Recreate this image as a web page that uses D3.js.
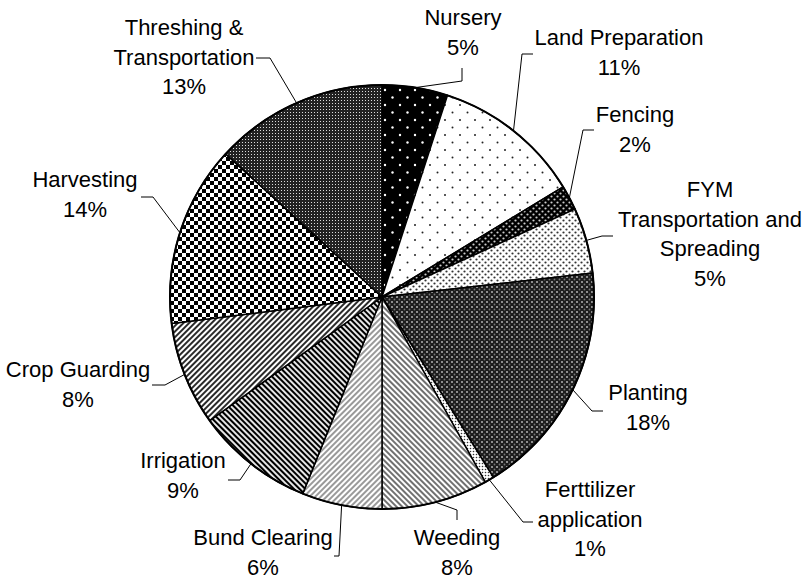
<!DOCTYPE html>
<html>
<head>
<meta charset="utf-8">
<script src="https://cdn.jsdelivr.net/npm/d3@7"></script>
<style>
  html, body { margin: 0; padding: 0; background: #fff; }
  svg { display: block; }
</style>
</head>
<body>
<div id="chart"></div>
<script>
// activity categories, clockwise from 12 o'clock
var categories = ["Nursery", "Land Preparation", "Fencing", "FYM\nTransportation and\nSpreading",
  "Planting", "Ferttilizer\napplication", "Weeding", "Bund Clearing", "Irrigation",
  "Crop Guarding", "Harvesting", "Threshing &\nTransportation"];
// share of labour (%)
var shares = [5.0, 11.3, 1.9, 5.0, 18.0, 0.7, 8.1, 6.1, 9.0, 7.9, 13.8, 13.2];

var width = 803, height = 579;
var cx = 382, cy = 297, radius = 212;
var lineGap = 29.5;

// label placement (text centre / first baseline) and leader elbow, same order as categories
var labelPos = [
  {x: 463, y: 25,  leader: [[462, 68], [462, 81]]},
  {x: 619, y: 45,  leader: [[533, 54], [522, 54]]},
  {x: 635, y: 122, leader: [[594, 130], [583, 130]]},
  {x: 710, y: 197, leader: [[613, 236], [602, 236]]},
  {x: 648, y: 400, leader: [[603, 411], [592, 411]]},
  {x: 590, y: 497, leader: [[533, 522], [523, 522]]},
  {x: 457, y: 545, leader: [[457, 520], [457, 510]]},
  {x: 263, y: 545, leader: [[334, 556], [339, 556]]},
  {x: 183, y: 468, leader: [[228, 480], [240, 480]]},
  {x: 78,  y: 377, leader: [[152, 385], [165, 385]]},
  {x: 85,  y: 187, leader: [[141, 197], [153, 197]]},
  {x: 184, y: 35,  leader: [[256, 58], [270, 58]]}
];

var svg = d3.select("#chart").append("svg")
    .attr("width", width)
    .attr("height", height);

var defs = svg.append("defs");

function makePattern(id, w, h, bg, rot) {
  var p = defs.append("pattern")
      .attr("id", id)
      .attr("patternUnits", "userSpaceOnUse")
      .attr("width", w)
      .attr("height", h);
  if (rot) p.attr("patternTransform", "rotate(" + rot + ")");
  p.append("rect").attr("width", w).attr("height", h).attr("fill", bg);
  return p;
}
function dots(p, pts, r, col) {
  pts.forEach(function(q) {
    p.append("circle").attr("cx", q[0]).attr("cy", q[1]).attr("r", r).attr("fill", col);
  });
}
function stripes(id, rot, col, sw) {
  var p = makePattern(id, 4, 4, "#fff", rot);
  p.append("line").attr("x1", 0).attr("x2", 4).attr("y1", 2).attr("y2", 2)
    .attr("stroke", col).attr("stroke-width", sw);
}

// nursery: white dots on black
dots(makePattern("p0", 15, 15, "#000"), [[3, 3], [10.5, 10.5]], 1.2, "#fff");
// land preparation: sparse dots
dots(makePattern("p1", 15, 15, "#fff"), [[3, 3], [10.5, 10.5]], 1, "#222");
// fencing: light dots on black
dots(makePattern("p2", 6, 6, "#000"), [[1.5, 1.5], [4.5, 4.5]], 1.1, "#ccc");
// FYM: dense dots
dots(makePattern("p3", 6, 6, "#fff"), [[1.5, 1.5], [4.5, 4.5]], 1.1, "#333");
// planting: dark diamond grid
var pp = makePattern("p4", 5, 5, "#1c1c1c");
dots(pp, [[0, 0], [5, 0], [0, 5], [5, 5]], 1.1, "#aaa");
dots(pp, [[2.5, 2.5]], 0.9, "#777");
// fertilizer: small dots
dots(makePattern("p5", 3, 3, "#fff"), [[1.5, 1.5]], 0.8, "#333");
stripes("p6", 45, "#333", 1.4);   // weeding
stripes("p7", -45, "#555", 1.2);  // bund clearing
stripes("p8", 45, "#000", 2.2);   // irrigation
stripes("p9", -45, "#111", 1.8);  // crop guarding
// harvesting: checkerboard
var ph = makePattern("p10", 8, 8, "#fff");
ph.append("rect").attr("width", 4).attr("height", 4).attr("fill", "#000");
ph.append("rect").attr("x", 4).attr("y", 4).attr("width", 4).attr("height", 4).attr("fill", "#000");
// threshing: fine grid
var pt = makePattern("p11", 3, 3, "#222");
pt.append("rect").attr("x", 1).attr("y", 1).attr("width", 1).attr("height", 1).attr("fill", "#ddd");

var pie = d3.pie().sort(null).value(function(d) { return d; });
var arcs = pie(shares);

var arc = d3.arc().innerRadius(0).outerRadius(radius);
var edge = d3.arc().innerRadius(radius).outerRadius(radius);

var g = svg.append("g").attr("transform", "translate(" + cx + "," + cy + ")");

g.selectAll("path.slice")
  .data(arcs)
  .enter().append("path")
    .attr("class", "slice")
    .attr("d", arc)
    .attr("fill", function(d, i) { return "url(#p" + i + ")"; })
    .attr("stroke", "#000")
    .attr("stroke-width", 1.5)
    .attr("stroke-linejoin", "round");

g.append("circle")
    .attr("r", radius)
    .attr("fill", "none")
    .attr("stroke", "#000")
    .attr("stroke-width", 2);

// leader lines
var line = d3.line();
svg.selectAll("path.leader")
  .data(arcs)
  .enter().append("path")
    .attr("class", "leader")
    .attr("d", function(d, i) {
      var c = edge.centroid(d);
      var pts = labelPos[i].leader.concat([[cx + c[0], cy + c[1]]]);
      return line(pts);
    })
    .attr("fill", "none")
    .attr("stroke", "#000")
    .attr("stroke-width", 1);

// labels
var labels = svg.selectAll("text.lbl")
  .data(arcs)
  .enter().append("text")
    .attr("class", "lbl")
    .style("font-family", "'Liberation Sans', Arial, sans-serif")
    .attr("font-size", 22)
    .attr("fill", "#000")
    .attr("text-anchor", "middle");

labels.each(function(d, i) {
  var lines = categories[i].split("\n").concat([Math.round(shares[i]) + "%"]);
  d3.select(this).selectAll("tspan")
    .data(lines)
    .enter().append("tspan")
      .attr("x", labelPos[i].x)
      .attr("y", function(s, k) { return labelPos[i].y + k * lineGap; })
      .text(function(s) { return s; });
});
</script>
</body>
</html>
